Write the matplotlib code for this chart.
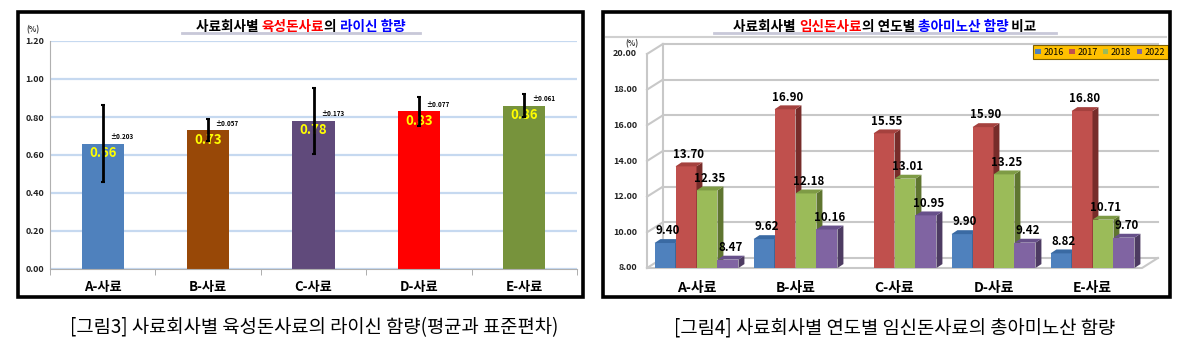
import numpy as np
import matplotlib
matplotlib.use('Agg')
import matplotlib.pyplot as plt
from matplotlib.patches import Rectangle, Polygon
from matplotlib.offsetbox import TextArea, HPacker, AnnotationBbox
from matplotlib.lines import Line2D

plt.rcParams['font.family'] = ['Noto Sans CJK KR', 'DejaVu Sans']

# ── Data ────────────────────────────────────────────────────────────────────
feeds = ['A-사료', 'B-사료', 'C-사료', 'D-사료', 'E-사료']

# left: lysine in grower feed (mean, sd)
lysine_mean = [0.66, 0.73, 0.78, 0.83, 0.86]
lysine_sd   = [0.203, 0.057, 0.173, 0.077, 0.061]
lysine_cols = ['#4f81bd', '#984807', '#604a7b', '#ff0000', '#77933c']

# right: total amino acids in gestation feed by year
years = ['2016', '2017', '2018', '2022']
aa_2016 = [9.40, 9.62, np.nan, 9.90, 8.82]
aa_2017 = [13.70, 16.90, 15.55, 15.90, 16.80]
aa_2018 = [12.35, 12.18, 13.01, 13.25, 10.71]
aa_2022 = [8.47, 10.16, 10.95, 9.42, 9.70]
aa_series = [aa_2016, aa_2017, aa_2018, aa_2022]
year_front = ['#4f81bd', '#c0504d', '#9bbb59', '#8064a2']
year_side  = ['#2c4d75', '#772c2a', '#5f7530', '#4d3b62']
year_top   = ['#3a6aa3', '#a5413e', '#7e9b45', '#67508a']

W, H = 1200, 361
fig = plt.figure(figsize=(W / 100, H / 100), dpi=100, facecolor='white')


def fx(px):
    return px / W


def fy(py):
    return 1 - py / H


def frame(x0, y0, x1, y1):
    fig.patches.append(Rectangle((fx(x0), fy(y1)), fx(x1 - x0), (y1 - y0) / H,
                                 transform=fig.transFigure, fill=False,
                                 edgecolor='black', linewidth=2.6, zorder=10))


def hline(x0, x1, y, color, lw):
    fig.add_artist(Line2D([fx(x0), fx(x1)], [fy(y), fy(y)], color=color,
                          linewidth=lw, transform=fig.transFigure, zorder=0))


def title(cx, cy, parts, size=9.8):
    boxes = [TextArea(s, textprops=dict(color=c, fontsize=size, fontweight='bold'))
             for s, c in parts]
    pack = HPacker(children=boxes, align='baseline', pad=0, sep=0)
    ab = AnnotationBbox(pack, (fx(cx), fy(cy)), xycoords='figure fraction',
                        frameon=False, box_alignment=(0.5, 0.5))
    fig.add_artist(ab)


# ═══════════════════
# LEFT CHART
# ═══════════════════
frame(18, 12, 583, 297)
hline(182, 420, 33, '#c8c8d8', 2.0)
title(301, 27, [('사료회사별 ', 'black'), ('육성돈사료', '#ff0000'),
                ('의 ', 'black'), ('라이신 함량', '#0000ff')])

axL = fig.add_axes([fx(50), fy(269), fx(577 - 50), (269 - 41) / H])
x = np.arange(len(feeds))
axL.bar(x, lysine_mean, width=0.4, color=lysine_cols, zorder=2)
axL.errorbar(x, lysine_mean, yerr=lysine_sd, fmt='none', ecolor='black',
             elinewidth=2, capsize=1.5, capthick=1.5, zorder=5)
for i, (m, s) in enumerate(zip(lysine_mean, lysine_sd)):
    axL.text(i, m - 0.05, f'{m:.2f}', ha='center', va='center', color='#ffff00',
             fontsize=9.5, fontweight='bold', zorder=4)
    axL.text(i + 0.07, m + 0.02, f'±{s:.3f}', ha='left', va='bottom',
             fontsize=4.5, fontweight='bold', zorder=4)

axL.set_xlim(-0.5, 4.5)
axL.set_ylim(0, 1.2)
axL.set_yticks(np.arange(0, 1.21, 0.2))
axL.set_yticklabels([f'{v:.2f}' for v in np.arange(0, 1.21, 0.2)],
                    fontsize=6.5, fontweight='bold', color='#222222')
axL.set_xticks(x)
axL.set_xticklabels(feeds, fontsize=9.5, fontweight='bold')
axL.set_xticks(np.arange(-0.5, 4.6, 1), minor=True)
axL.tick_params(axis='x', which='major', length=0, pad=8)
axL.tick_params(axis='x', which='minor', length=4, color='#a0a0a0')
axL.tick_params(axis='y', length=0, pad=4)
axL.grid(axis='y', color='#c6d9f0', linewidth=1.6, zorder=0)
axL.set_axisbelow(True)
for k in ['top', 'right']:
    axL.spines[k].set_visible(False)
for k in ['left', 'bottom']:
    axL.spines[k].set_color('#b0b0b0')
axL.text(-0.02, 1.03, '(%)', transform=axL.transAxes, fontsize=5.5,
         fontweight='bold', ha='right', va='bottom', color='#333333')

# ═══════════════════
# RIGHT CHART
# ═══════════════════
frame(603, 12, 1170, 297)
hline(714, 1056, 33, '#c8c8d8', 2.0)
title(885, 27, [('사료회사별 ', 'black'), ('임신돈사료', '#ff0000'),
                ('의 연도별 ', 'black'), ('총아미노산 함량', '#0000ff'),
                (' 비교', 'black')])
hline(606, 1166, 37, '#d0d0d0', 1.5)

axR = fig.add_axes([fx(647), fy(268), fx(1142 - 647), (268 - 54) / H])
axR.set_xlim(-0.5, 4.5)
axR.set_ylim(8, 20)
axR.axis('off')

WALL_DX, WALL_DY = 0.16, 0.56   # back-wall depth, data units
BAR_DX, BAR_DY = 0.06, 0.22     # bar depth, data units
gc = '#c8c8c8'
ticks = np.arange(8, 20.1, 2)
for t in ticks:
    axR.plot([-0.5 + WALL_DX, 4.5 + WALL_DX], [t + WALL_DY, t + WALL_DY],
             color=gc, lw=1.5, clip_on=False, zorder=0)
    axR.plot([-0.5, -0.5 + WALL_DX], [t, t + WALL_DY], color=gc, lw=1.5,
             clip_on=False, zorder=0)
    axR.text(-0.6, t, f'{t:.2f}', ha='right', va='center', fontsize=6.5,
             fontweight='bold', color='#222222')
axR.plot([-0.5, -0.5], [8, 20], color=gc, lw=1.5, clip_on=False, zorder=0)
axR.plot([-0.5 + WALL_DX] * 2, [8 + WALL_DY, 20 + WALL_DY], color=gc, lw=1.5,
         clip_on=False, zorder=0)
axR.plot([-0.5, 4.5, 4.5 + WALL_DX], [8, 8, 8 + WALL_DY], color=gc, lw=1.5,
         clip_on=False, zorder=0)
axR.text(-0.72, 20.35, '(%)', ha='left', va='bottom', fontsize=5.5,
         fontweight='bold', color='#333333')

bw = 0.212
xr = np.arange(len(feeds))
for k, (vals, yr) in enumerate(zip(aa_series, years)):
    pos = xr + (k - 1.5) * bw
    heights = np.array(vals) - 8
    axR.bar(pos, heights, bottom=8, width=bw, color=year_front[k],
            label=yr, zorder=2 + k, clip_on=False)
    for p, v in zip(pos, vals):
        if np.isnan(v):
            continue
        x0, x1 = p - bw / 2, p + bw / 2
        side = [(x1, 8), (x1 + BAR_DX, 8 + BAR_DY), (x1 + BAR_DX, v + BAR_DY), (x1, v)]
        top = [(x0, v), (x0 + BAR_DX, v + BAR_DY), (x1 + BAR_DX, v + BAR_DY), (x1, v)]
        axR.add_patch(Polygon(side, closed=True, facecolor=year_side[k],
                              edgecolor='none', zorder=2 + k, clip_on=False))
        axR.add_patch(Polygon(top, closed=True, facecolor=year_top[k],
                              edgecolor='none', zorder=2 + k, clip_on=False))
        axR.text(p + BAR_DX / 2, v + BAR_DY + 0.1, f'{v:.2f}', ha='center',
                 va='bottom', fontsize=8.3, fontweight='bold', zorder=10)

for i, name in enumerate(feeds):
    axR.text(i, 6.9, name, ha='center', va='center', fontsize=10,
             fontweight='bold')

leg = axR.legend(loc='upper right', bbox_to_anchor=(fx(1168), fy(45)),
                 bbox_transform=fig.transFigure, ncol=4, fontsize=6.5,
                 frameon=True, fancybox=False, facecolor='#ffc000',
                 edgecolor='#7f6000', framealpha=1, handlelength=0.6,
                 handleheight=0.6, handletextpad=0.3, columnspacing=0.6,
                 borderpad=0.3, borderaxespad=0)
leg.get_frame().set_linewidth(0.8)

# ── Captions ─────────────────────────────────────────────────────────────────
fig.text(fx(314), fy(328), '[그림3] 사료회사별 육성돈사료의 라이신 함량(평균과 표준편차)',
         ha='center', va='center', fontsize=13.5)
fig.text(fx(895), fy(328), '[그림4] 사료회사별 연도별 임신돈사료의 총아미노산 함량',
         ha='center', va='center', fontsize=13.5)

fig.savefig('out.png', dpi=100, facecolor='white')
